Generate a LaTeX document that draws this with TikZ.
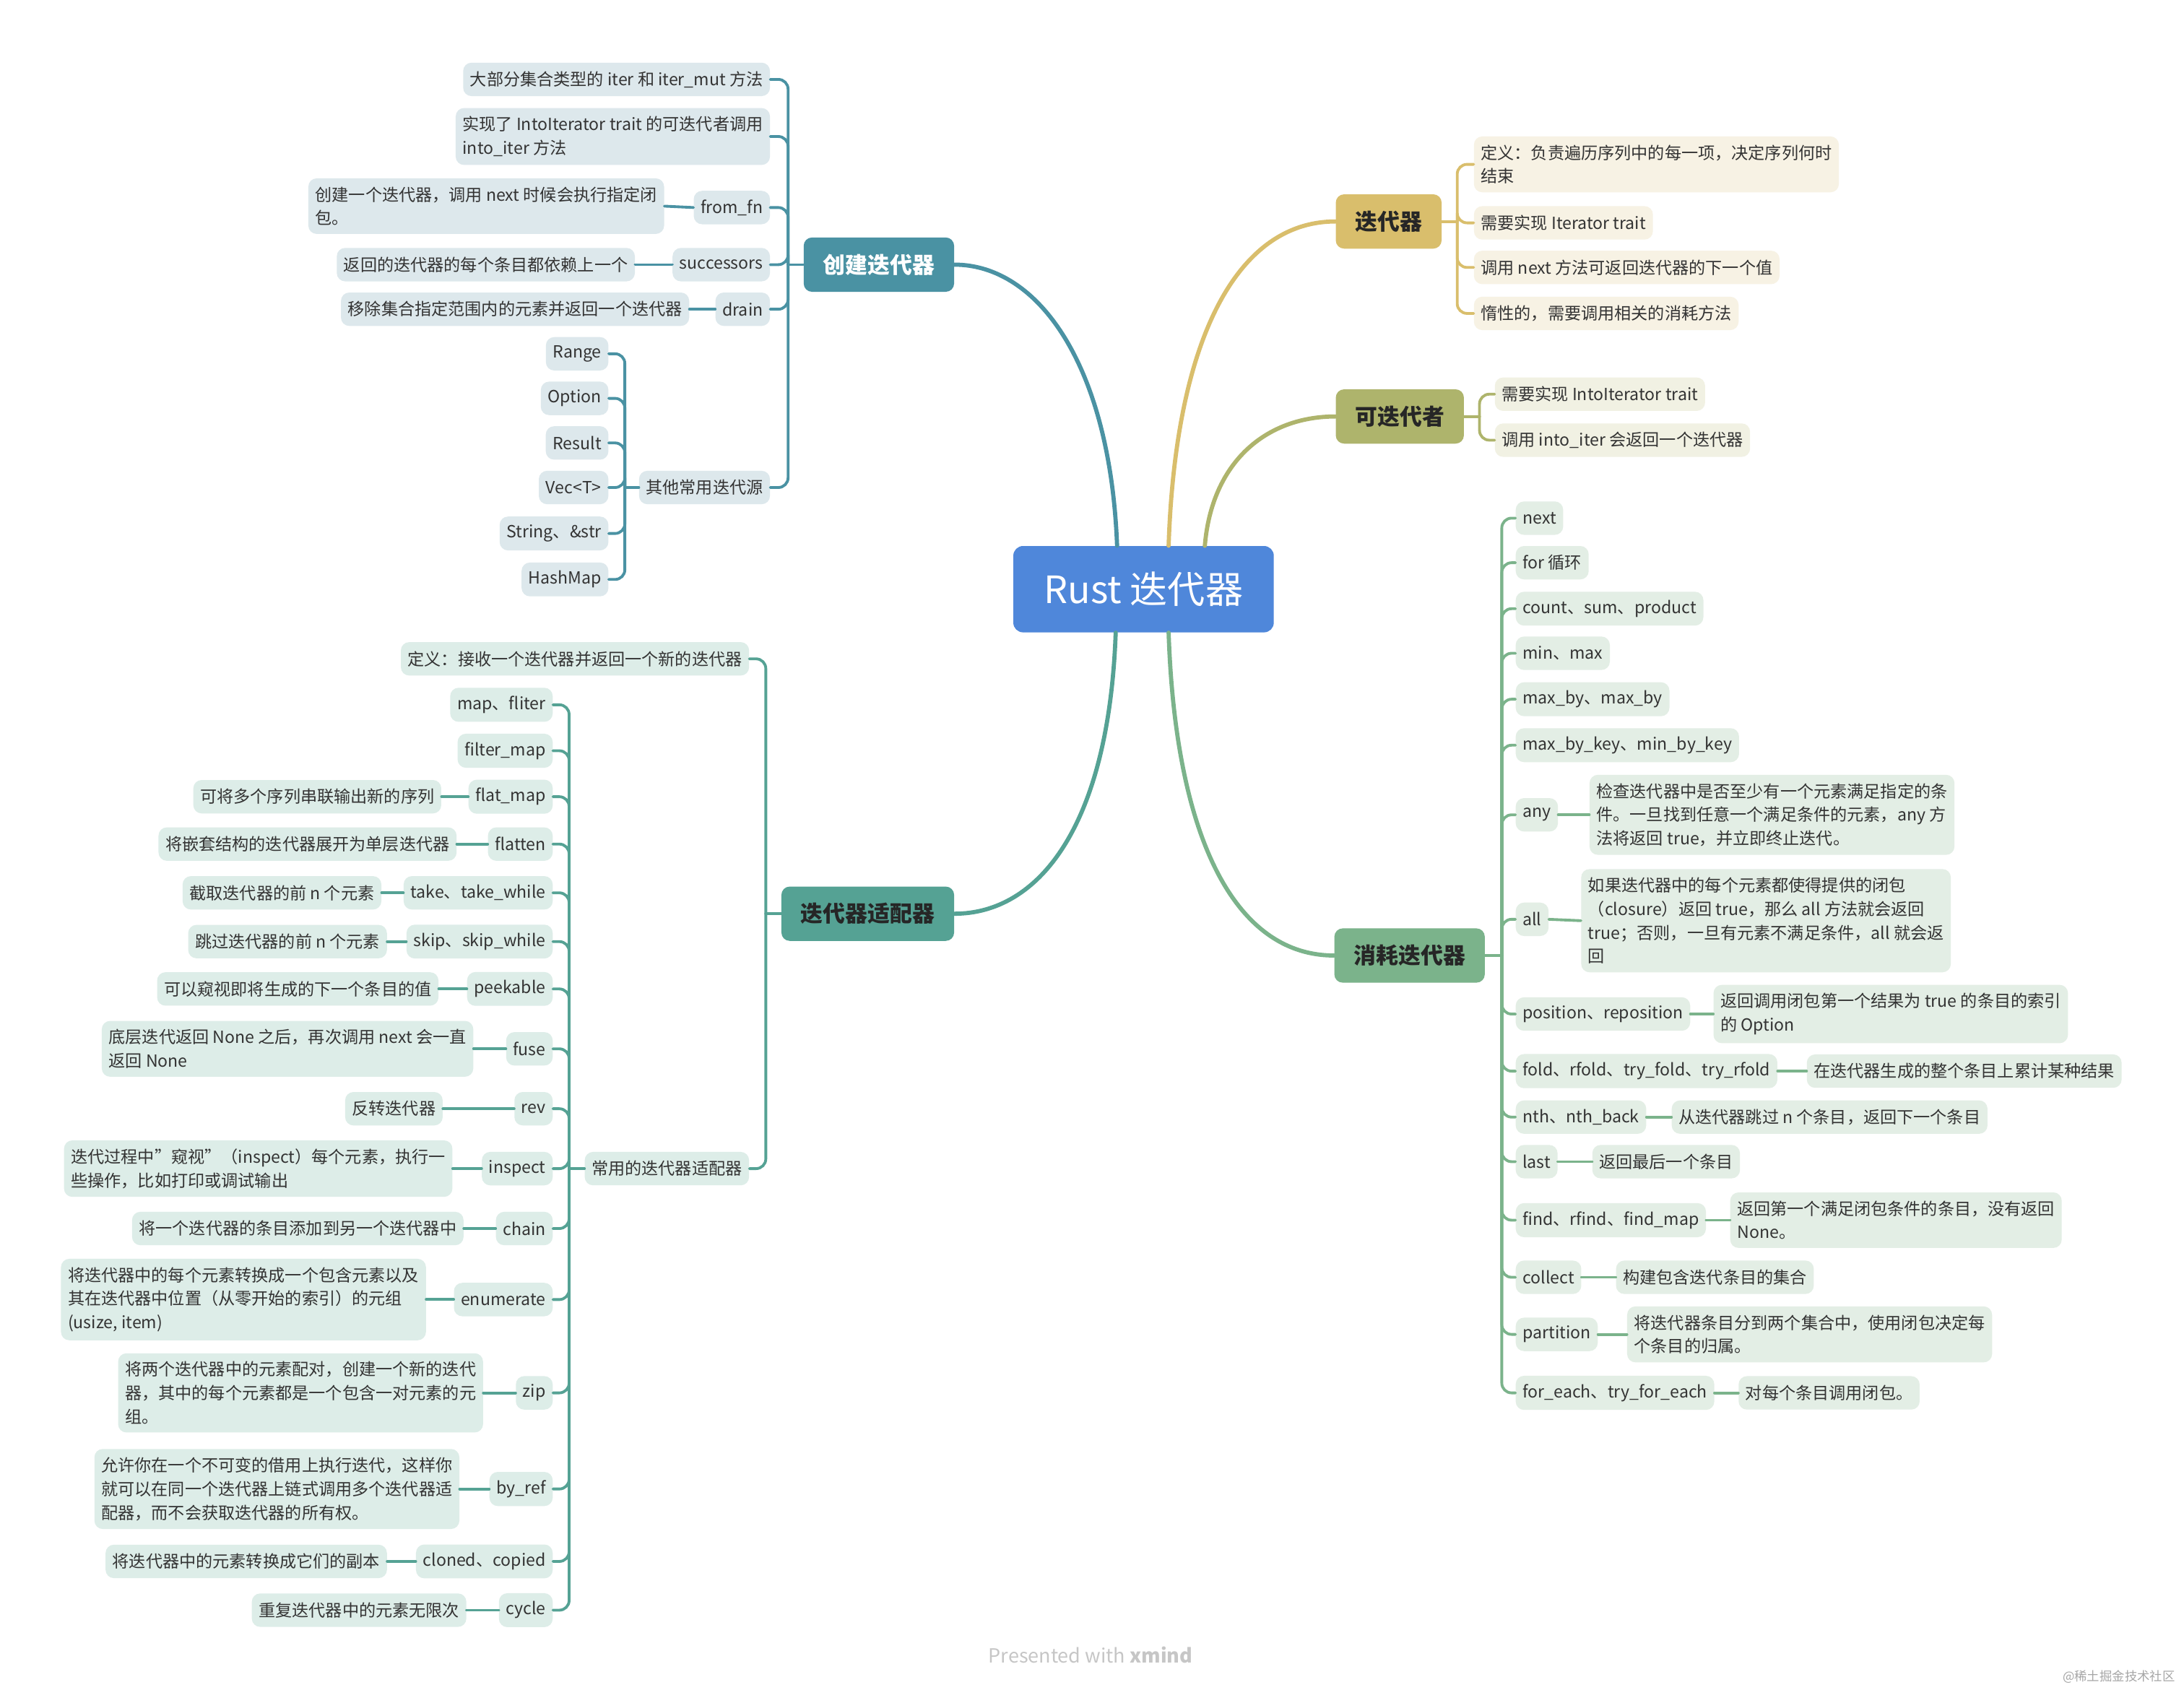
\documentclass[tikz,border=0pt]{standalone}
\usepackage{fontspec}
\setmainfont{Noto Sans CJK SC}
\usetikzlibrary{arrows}

\definecolor{rootblue}{HTML}{4F87DA}
\definecolor{textgray}{HTML}{333333}
\definecolor{cjcol}{HTML}{4A92A3}
\definecolor{cjfill}{HTML}{DDE8EC}
\definecolor{spcol}{HTML}{55A294}
\definecolor{spfill}{HTML}{DDEDE8}
\definecolor{ddcol}{HTML}{D9BE6C}
\definecolor{ddfill}{HTML}{F7F2E4}
\definecolor{kdcol}{HTML}{AEB46C}
\definecolor{kdfill}{HTML}{F1F1E3}
\definecolor{xhcol}{HTML}{7BB38B}
\definecolor{xhfill}{HTML}{E3EEE5}

\begin{document}
\begin{tikzpicture}[x=1pt,y=-1pt,line cap=round,
  root/.style={fill=rootblue,text=white,rounded corners=7pt,minimum width=187pt,minimum height=62pt,font=\fontsize{27}{32}\selectfont},
  topic/.style={rounded corners=6pt,minimum height=39pt,inner xsep=14pt,text=black!85,font=\bfseries\fontsize{16}{19}\selectfont},
  leaf/.style={rounded corners=6pt,align=left,inner xsep=5pt,inner ysep=6pt,minimum height=24pt,text=textgray,font=\fontsize{12}{17}\selectfont},
  cjleaf/.style={leaf,fill=cjfill,anchor=east},
  spleaf/.style={leaf,fill=spfill,anchor=east},
  ddleaf/.style={leaf,fill=ddfill,anchor=west},
  kdleaf/.style={leaf,fill=kdfill,anchor=west},
  xhleaf/.style={leaf,fill=xhfill,anchor=west},
  cjlink/.style={draw=cjcol,line width=2pt,rounded corners=7pt},
  splink/.style={draw=spcol,line width=2pt,rounded corners=7pt},
  ddlink/.style={draw=ddcol,line width=2pt,rounded corners=7pt},
  kdlink/.style={draw=kdcol,line width=2pt,rounded corners=7pt},
  xhlink/.style={draw=xhcol,line width=2pt,rounded corners=7pt}]
%\clip (0,0) rectangle (1568,1213);
\fill[white] (0,0) rectangle (1568,1213);
\useasboundingbox (0,0) rectangle (1568,1213);

\node[root] (root) at (821,423) {Rust 迭代器};

% main topics
\node[topic,fill=cjcol,text=white] (cj) at (631,190) {创建迭代器};
\node[topic,fill=spcol] (sp) at (623,656) {迭代器适配器};
\node[topic,fill=ddcol] (dd) at (997,159) {迭代器};
\node[topic,fill=kdcol] (kd) at (1005,299) {可迭代者};
\node[topic,fill=xhcol] (xh) at (1012,686) {消耗迭代器};

\draw[cjcol,line width=3pt] ([xshift=-19pt]root.north) .. controls +(-5,-130) and +(60,0) .. (cj.east);
\draw[ddcol,line width=3pt] ([xshift=18pt]root.north) .. controls +(5,-150) and +(-70,0) .. (dd.west);
\draw[kdcol,line width=3pt] ([xshift=44pt]root.north) .. controls +(5,-60) and +(-50,0) .. (kd.west);
\draw[spcol,line width=3pt] ([xshift=-20pt]root.south) .. controls +(-5,140) and +(60,0) .. (sp.east);
\draw[xhcol,line width=3pt] ([xshift=18pt]root.south) .. controls +(5,150) and +(-70,0) .. (xh.west);

% 创建迭代器
\node[cjleaf] (c1) at (553,57) {大部分集合类型的 iter 和 iter\_mut 方法};
\node[cjleaf] (c2) at (553,98) {实现了 IntoIterator trait 的可迭代者调用\\into\_iter 方法};
\node[cjleaf] (c3) at (553,149) {from\_fn};
\node[cjleaf] (d3) at (477,148) {创建一个迭代器，调用 next 时候会执行指定闭\\包。};
\node[cjleaf] (c4) at (553,190) {successors};
\node[cjleaf] (d4) at (456,190) {返回的迭代器的每个条目都依赖上一个};
\node[cjleaf] (c5) at (553,222) {drain};
\node[cjleaf] (d5) at (495,222) {移除集合指定范围内的元素并返回一个迭代器};
\node[cjleaf] (c6) at (553,350) {其他常用迭代源};
\node[cjleaf] (r1) at (437,254) {Range};
\node[cjleaf] (r2) at (437,286) {Option};
\node[cjleaf] (r3) at (437,318) {Result};
\node[cjleaf] (r4) at (437,350) {Vec<T>};
\node[cjleaf] (r5) at (437,383) {String、\&str};
\node[cjleaf] (r6) at (437,416) {HashMap};

\draw[cjlink] (cj.west) -- ++(-11,0) coordinate (cjs);
\foreach \c in {c1,c2,c3,c4,c5,c6}
  \draw[cjlink] (cjs) |- (\c.east);
\draw[cjlink] (c6.west) -- ++(-10,0) coordinate (c6s);
\foreach \c in {r1,r2,r3,r4,r5,r6}
  \draw[cjlink] (c6s) |- (\c.east);
\foreach \c/\d in {c3/d3,c4/d4,c5/d5}
  \draw[cjlink] (\c.west) -- (\d.east);

% 迭代器适配器
\node[spleaf] (a1) at (538,473) {定义：接收一个迭代器并返回一个新的迭代器};
\node[spleaf] (a2) at (538,839) {常用的迭代器适配器};
\node[spleaf] (m1) at (397,506) {map、fliter};
\node[spleaf] (m2) at (397,539) {filter\_map};
\node[spleaf] (m3) at (397,572) {flat\_map};
\node[spleaf] (e3) at (317,572) {可将多个序列串联输出新的序列};
\node[spleaf] (m4) at (397,606) {flatten};
\node[spleaf] (e4) at (328,606) {将嵌套结构的迭代器展开为单层迭代器};
\node[spleaf] (m5) at (397,641) {take、take\_while};
\node[spleaf] (e5) at (274,641) {截取迭代器的前 n 个元素};
\node[spleaf] (m6) at (397,676) {skip、skip\_while};
\node[spleaf] (e6) at (278,676) {跳过迭代器的前 n 个元素};
\node[spleaf] (m7) at (397,710) {peekable};
\node[spleaf] (e7) at (315,710) {可以窥视即将生成的下一个条目的值};
\node[spleaf] (m8) at (397,753) {fuse};
\node[spleaf] (e8) at (340,753) {底层迭代返回 None 之后，再次调用 next 会一直\\返回 None};
\node[spleaf] (m9) at (397,796) {rev};
\node[spleaf] (e9) at (318,796) {反转迭代器};
\node[spleaf] (m10) at (397,839) {inspect};
\node[spleaf] (e10) at (325,839) {迭代过程中"窥视"（inspect）每个元素，执行一\\些操作，比如打印或调试输出};
\node[spleaf] (m11) at (397,882) {chain};
\node[spleaf] (e11) at (333,882) {将一个迭代器的条目添加到另一个迭代器中};
\node[spleaf] (m12) at (397,933) {enumerate};
\node[spleaf] (e12) at (306,933) {将迭代器中的每个元素转换成一个包含元素以及\\其在迭代器中位置（从零开始的索引）的元组\\(usize, item)};
\node[spleaf] (m13) at (397,1000) {zip};
\node[spleaf] (e13) at (347,1000) {将两个迭代器中的元素配对，创建一个新的迭代\\器，其中的每个元素都是一个包含一对元素的元\\组。};
\node[spleaf] (m14) at (397,1069) {by\_ref};
\node[spleaf] (e14) at (330,1069) {允许你在一个不可变的借用上执行迭代，这样你\\就可以在同一个迭代器上链式调用多个迭代器适\\配器，而不会获取迭代器的所有权。};
\node[spleaf] (m15) at (397,1121) {cloned、copied};
\node[spleaf] (e15) at (278,1121) {将迭代器中的元素转换成它们的副本};
\node[spleaf] (m16) at (397,1156) {cycle};
\node[spleaf] (e16) at (335,1156) {重复迭代器中的元素无限次};

\draw[splink] (sp.west) -- ++(-11,0) coordinate (sps);
\foreach \c in {a1,a2}
  \draw[splink] (sps) |- (\c.east);
\draw[splink] (a2.west) -- ++(-11,0) coordinate (a2s);
\foreach \c in {m1,m2,m3,m4,m5,m6,m7,m8,m9,m10,m11,m12,m13,m14,m15,m16}
  \draw[splink] (a2s) |- (\c.east);
\foreach \c/\d in {m3/e3,m4/e4,m5/e5,m6/e6,m7/e7,m8/e8,m9/e9,m10/e10,m11/e11,m12/e12,m13/e13,m14/e14,m15/e15,m16/e16}
  \draw[splink] (\c.west) -- (\d.east);

% 迭代器
\node[ddleaf] (i1) at (1058,118) {定义：负责遍历序列中的每一项，决定序列何时\\结束};
\node[ddleaf] (i2) at (1058,160) {需要实现 Iterator trait};
\node[ddleaf] (i3) at (1058,192) {调用 next 方法可返回迭代器的下一个值};
\node[ddleaf] (i4) at (1058,225) {惰性的，需要调用相关的消耗方法};
\draw[ddlink] (dd.east) -- ++(11,0) coordinate (dds);
\foreach \c in {i1,i2,i3,i4}
  \draw[ddlink] (dds) |- (\c.west);

% 可迭代者
\node[kdleaf] (k1) at (1073,283) {需要实现 IntoIterator trait};
\node[kdleaf] (k2) at (1073,316) {调用 into\_iter 会返回一个迭代器};
\draw[kdlink] (kd.east) -- ++(11,0) coordinate (kds);
\foreach \c in {k1,k2}
  \draw[kdlink] (kds) |- (\c.west);

% 消耗迭代器
\node[xhleaf] (x1) at (1088,372) {next};
\node[xhleaf] (x2) at (1088,404) {for 循环};
\node[xhleaf] (x3) at (1088,437) {count、sum、product};
\node[xhleaf] (x4) at (1088,469) {min、max};
\node[xhleaf] (x5) at (1088,502) {max\_by、max\_by};
\node[xhleaf] (x6) at (1088,535) {max\_by\_key、min\_by\_key};
\node[xhleaf] (x7) at (1088,585) {any};
\node[xhleaf] (y7) at (1141,585) {检查迭代器中是否至少有一个元素满足指定的条\\件。一旦找到任意一个满足条件的元素，any 方\\法将返回 true，并立即终止迭代。};
\node[xhleaf] (x8) at (1088,660) {all};
\node[xhleaf] (y8) at (1135,661) {如果迭代器中的每个元素都使得提供的闭包\\（closure）返回 true，那么 all 方法就会返回\\true；否则，一旦有元素不满足条件，all 就会返\\回};
\node[xhleaf] (x9) at (1088,728) {position、reposition};
\node[xhleaf] (y9) at (1230,728) {返回调用闭包第一个结果为 true 的条目的索引\\的 Option};
\node[xhleaf] (x10) at (1088,769) {fold、rfold、try\_fold、try\_rfold};
\node[xhleaf] (y10) at (1297,769) {在迭代器生成的整个条目上累计某种结果};
\node[xhleaf] (x11) at (1088,802) {nth、nth\_back};
\node[xhleaf] (y11) at (1200,802) {从迭代器跳过 n 个条目，返回下一个条目};
\node[xhleaf] (x12) at (1088,834) {last};
\node[xhleaf] (y12) at (1143,834) {返回最后一个条目};
\node[xhleaf] (x13) at (1088,876) {find、rfind、find\_map};
\node[xhleaf] (y13) at (1242,876) {返回第一个满足闭包条件的条目，没有返回\\None。};
\node[xhleaf] (x14) at (1088,917) {collect};
\node[xhleaf] (y14) at (1160,917) {构建包含迭代条目的集合};
\node[xhleaf] (x15) at (1088,958) {partition};
\node[xhleaf] (y15) at (1168,958) {将迭代器条目分到两个集合中，使用闭包决定每\\个条目的归属。};
\node[xhleaf] (x16) at (1088,1000) {for\_each、try\_for\_each};
\node[xhleaf] (y16) at (1248,1000) {对每个条目调用闭包。};

\draw[xhlink] (xh.east) -- ++(12,0) coordinate (xhs);
\foreach \c in {x1,x2,x3,x4,x5,x6,x7,x8,x9,x10,x11,x12,x13,x14,x15,x16}
  \draw[xhlink] (xhs) |- (\c.west);
\foreach \c/\d in {x7/y7,x8/y8,x9/y9,x10/y10,x11/y11,x12/y12,x13/y13,x14/y14,x15/y15,x16/y16}
  \draw[xhlink] (\c.east) -- (\d.west);

% footer
\node[text=gray!45,font=\fontsize{14}{16}\selectfont] (foot) at (783,1188) {Presented with \textbf{xmind}};
\node[text=gray!70,font=\fontsize{9}{10}\selectfont,anchor=east] (mark) at (1565,1204) {@稀土掘金技术社区};
\end{tikzpicture}
\end{document}
